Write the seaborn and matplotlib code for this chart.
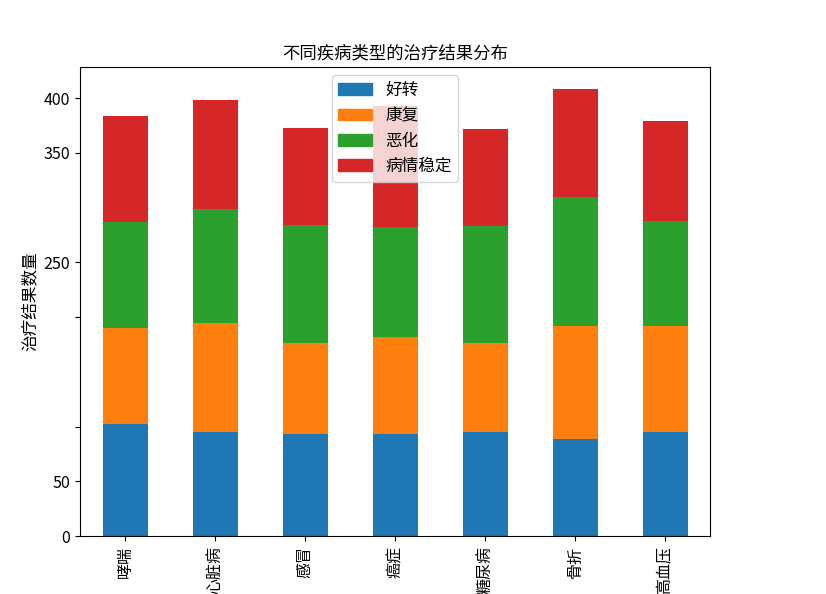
import pandas as pd
import matplotlib
matplotlib.use('Agg')
import matplotlib.pyplot as plt
import seaborn as sns
from matplotlib.patches import Patch

plt.rcParams['font.family'] = ['Noto Sans CJK SC', 'DejaVu Sans']
plt.rcParams['axes.unicode_minus'] = False
plt.rcParams['font.size'] = 12

# values
diseases = ['哮喘', '心脏病', '感冒', '癌症', '糖尿病', '骨折', '高血压']
outcomes = ['好转', '康复', '恶化', '病情稳定']
improved = [102, 95, 93, 93, 95, 89, 95]
recovered = [88, 100, 83, 89, 81, 103, 97]
worsened = [97, 104, 108, 100, 107, 118, 96]
stable = [97, 99, 89, 111, 89, 98, 91]
colors = ['#1f77b4', '#ff7f0e', '#2ca02c', '#d62728']

rows = []
for name, vals in zip(outcomes, [improved, recovered, worsened, stable]):
    for d, v in zip(diseases, vals):
        rows.append({'疾病类型': d, '治疗结果': name, '数量': v})
df = pd.DataFrame(rows)

fig = plt.figure(figsize=(8.26, 5.94), dpi=100)
ax = fig.add_axes([0.097, 0.0976, 0.7626, 0.7896])

# seaborn stacks the first hue level on top, so feed the order reversed
sns.histplot(data=df, x='疾病类型', weights='数量', hue='治疗结果',
             hue_order=outcomes[::-1], palette=colors[::-1],
             multiple='stack', discrete=True, shrink=0.5,
             alpha=1, linewidth=0, legend=False, ax=ax)

ax.set_xlim(-0.5, len(diseases) - 0.5)
ax.set_ylim(0, 428.5)
ax.set_xticks(range(len(diseases)))
ax.set_xticklabels(diseases, rotation=90)
ax.set_yticks([0, 50, 100, 200, 250, 350, 400])
ax.set_yticklabels(['0', '50', '', '', '250', '350', '400'])
ax.tick_params(labelsize=11.5)
ax.set_xlabel('')
ax.set_ylabel('治疗结果数量', fontsize=12)
ax.set_title('不同疾病类型的治疗结果分布', fontsize=12.5)

handles = [Patch(color=c, label=o) for c, o in zip(colors, outcomes)]
ax.legend(handles=handles, loc='upper center', fontsize=12)

fig.savefig('out.png', dpi=100)
